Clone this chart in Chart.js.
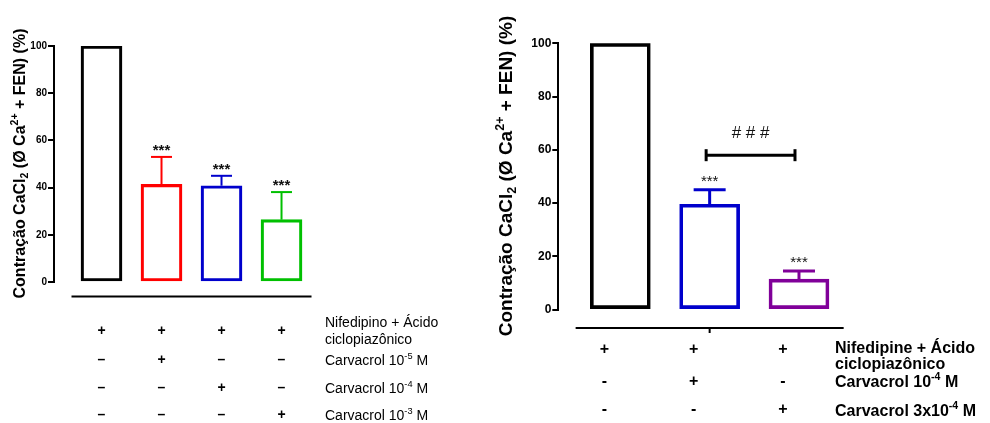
<!DOCTYPE html>
<html>
<head>
<meta charset="utf-8">
<script src="https://cdn.jsdelivr.net/npm/chart.js@4.4.1/dist/chart.umd.min.js"></script>
<style>
  html, body { margin: 0; padding: 0; background: #fff; }
  #wrap { position: relative; width: 990px; height: 423px; overflow: hidden; }
  #wrap canvas { position: absolute; left: 0; top: 0; }
</style>
</head>
<body>
<div id="wrap">
  <canvas id="panelA" width="990" height="423"></canvas>
  <canvas id="panelB" width="990" height="423"></canvas>
</div>
<script>
const FONT = "'Liberation Sans', Arial, Helvetica, sans-serif";

// ---- shared axis ----
const yTicks = [0, 20, 40, 60, 80, 100];
const yTitle = [['Contração CaCl', 'n'], ['2', 'sub'], [' (Ø Ca', 'n'], ['2+', 'sup'], [' + FEN) (%)', 'n']];

// ---- panel A: carvacrol 10-5, 10-4, 10-3 M ----
const groupsA = ['Controle', 'Carvacrol 10-5 M', 'Carvacrol 10-4 M', 'Carvacrol 10-3 M'];
const meansA = [100, 41.4, 40.8, 26.4];
const semA = [0, 11.6, 4.2, 11.7];
const starsA = ['', '***', '***', '***'];
const colorsA = ['#000000', '#ff0000', '#0000cc', '#00c000'];
const rowLabelsA = [
  [[['Nifedipino + Ácido', 'n']], [['ciclopiazônico', 'n']]],
  [[['Carvacrol 10', 'n'], ['-5', 'sup'], [' M', 'n']]],
  [[['Carvacrol 10', 'n'], ['-4', 'sup'], [' M', 'n']]],
  [[['Carvacrol 10', 'n'], ['-3', 'sup'], [' M', 'n']]]
];
const rowMarksA = [
  ['+', '+', '+', '+'],
  ['–', '+', '–', '–'],
  ['–', '–', '+', '–'],
  ['–', '–', '–', '+']
];

// ---- panel B: carvacrol 10-4 and 3x10-4 M ----
const groupsB = ['Controle', 'Carvacrol 10-4 M', 'Carvacrol 3x10-4 M'];
const meansB = [100, 39.6, 11.5];
const semB = [0, 5.4, 3.0];
const starsB = ['', '***', '***'];
const colorsB = ['#000000', '#0000cc', '#800099'];
const bracketB = { from: 1, to: 2, value: 58, label: '# # #' };
const rowLabelsB = [
  [[['Nifedipine + Ácido', 'n']], [['ciclopiazônico', 'n']]],
  [[['Carvacrol 10', 'n'], ['-4', 'sup'], [' M', 'n']]],
  [[['Carvacrol 3x10', 'n'], ['-4', 'sup'], [' M', 'n']]]
];
const rowMarksB = [
  ['+', '+', '+'],
  ['-', '+', '-'],
  ['-', '-', '+']
];

// Draws a run of text segments (normal / superscript / subscript) on one baseline.
function drawRich(ctx, segs, x, y, size, weight, align) {
  let total = 0;
  const parts = segs.map(([t, k]) => {
    const s = k === 'n' ? size : size * 0.66;
    ctx.font = `${weight} ${s}px ${FONT}`;
    const w = ctx.measureText(t).width;
    total += w;
    return { t, k, s, w };
  });
  let cx = align === 'center' ? x - total / 2 : x;
  ctx.textAlign = 'left';
  ctx.textBaseline = 'alphabetic';
  for (const p of parts) {
    ctx.font = `${weight} ${p.s}px ${FONT}`;
    const dy = p.k === 'sup' ? -size * 0.4 : (p.k === 'sub' ? size * 0.22 : 0);
    ctx.fillText(p.t, cx, y + dy);
    cx += p.w;
  }
}

function line(ctx, x1, y1, x2, y2) {
  ctx.beginPath();
  ctx.moveTo(x1, y1);
  ctx.lineTo(x2, y2);
  ctx.stroke();
}

// Error bars, significance marks, offset baseline, treatment table and axis title.
function extras(cfg) {
  return {
    id: 'extras',
    afterDatasetsDraw(chart) {
      const ctx = chart.ctx;
      const xs = chart.scales.x, ys = chart.scales.y;
      const meta = chart.getDatasetMeta(0);
      ctx.save();
      ctx.lineCap = 'butt';
      meta.data.forEach((bar, i) => {
        const yTop = ys.getPixelForValue(cfg.means[i]);
        const yErr = ys.getPixelForValue(cfg.means[i] + cfg.sem[i]);
        if (cfg.sem[i] > 0) {
          ctx.strokeStyle = cfg.colors[i];
          ctx.lineWidth = cfg.errWidth;
          line(ctx, bar.x, yTop, bar.x, yErr);
          line(ctx, bar.x - cfg.cap / 2, yErr, bar.x + cfg.cap / 2, yErr);
        }
        if (cfg.stars[i]) {
          ctx.fillStyle = '#111';
          ctx.font = `${cfg.starWeight} 15px ${FONT}`;
          ctx.textAlign = 'center';
          ctx.textBaseline = 'alphabetic';
          ctx.fillText(cfg.stars[i], bar.x, yErr - cfg.starGap + 8.7);
        }
      });

      // comparison bracket
      if (cfg.bracket) {
        const b = cfg.bracket;
        const x1 = xs.getPixelForValue(b.from) - 3.5;
        const x2 = xs.getPixelForValue(b.to) - 4;
        const yb = ys.getPixelForValue(b.value);
        ctx.strokeStyle = '#000';
        ctx.lineWidth = 3;
        line(ctx, x1, yb, x2, yb);
        line(ctx, x1, yb - 6, x1, yb + 6);
        line(ctx, x2, yb - 6, x2, yb + 6);
        ctx.fillStyle = '#111';
        ctx.font = `17px ${FONT}`;
        ctx.textAlign = 'center';
        ctx.textBaseline = 'alphabetic';
        ctx.fillText(b.label, (x1 + x2) / 2, yb - 17);
      }

      // detached category baseline
      const n = cfg.means.length;
      ctx.strokeStyle = '#000';
      ctx.lineWidth = 2;
      line(ctx, xs.getPixelForValue(-0.5), cfg.baseY, xs.getPixelForValue(n - 0.5), cfg.baseY);
      if (cfg.baseTick !== undefined) {
        const tx = xs.getPixelForValue(cfg.baseTick);
        line(ctx, tx, cfg.baseY, tx, cfg.baseY + 5);
      }

      // treatment table
      ctx.fillStyle = '#000';
      cfg.marks.forEach((row, r) => {
        row.forEach((m, i) => {
          ctx.font = `bold ${cfg.markSize}px ${FONT}`;
          ctx.textAlign = 'center';
          ctx.textBaseline = 'middle';
          ctx.fillText(m, xs.getPixelForValue(i) + cfg.markShift, cfg.rowY[r]);
        });
      });
      cfg.rowLabels.forEach((lines, r) => {
        lines.forEach((segs, k) => {
          drawRich(ctx, segs, cfg.labelX, cfg.labelBase[r][k], cfg.labelSize, cfg.labelWeight, 'left');
        });
      });

      // rotated y-axis title
      ctx.save();
      ctx.translate(cfg.titleX, cfg.titleY);
      ctx.rotate(-Math.PI / 2);
      ctx.fillStyle = '#000';
      drawRich(ctx, yTitle, 0, 0, cfg.titleSize, 'bold', 'center');
      ctx.restore();

      ctx.restore();
    }
  };
}

function makeChart(id, cfg) {
  return new Chart(document.getElementById(id), {
    type: 'bar',
    data: {
      datasets: [{
        data: cfg.means.map((v, i) => ({ x: i, y: v })),
        backgroundColor: 'rgba(255,255,255,0)',
        borderColor: cfg.colors,
        borderWidth: cfg.barBorder,
        borderSkipped: false,
        barThickness: cfg.barWidth
      }]
    },
    options: {
      responsive: false,
      animation: false,
      events: [],
      layout: { padding: cfg.padding },
      plugins: { legend: { display: false }, tooltip: { enabled: false } },
      scales: {
        x: { type: 'linear', display: false, offset: false, min: cfg.xMin, max: cfg.xMax },
        y: {
          min: yTicks[0],
          max: yTicks[yTicks.length - 1],
          afterFit: s => { s.width = cfg.axisWidth; },
          afterBuildTicks: s => { s.ticks = yTicks.map(v => ({ value: v })); },
          ticks: { color: '#000', padding: 1, font: { family: FONT, size: cfg.tickSize, weight: 'bold' } },
          grid: { drawOnChartArea: false, color: '#000', lineWidth: 2, tickLength: 6 },
          border: { display: true, color: '#000', width: 2 }
        }
      }
    },
    plugins: [extras(cfg)]
  });
}

makeChart('panelA', {
  means: meansA, sem: semA, stars: starsA, colors: colorsA,
  marks: rowMarksA, rowLabels: rowLabelsA,
  padding: { left: 0, right: 678, top: 46, bottom: 141 },
  axisWidth: 54, xMin: -0.7917, xMax: 3.508,
  barWidth: 41, barBorder: 2.5, errWidth: 2, cap: 21,
  starGap: 11, starWeight: 'bold', tickSize: 10,
  baseY: 296.5,
  markSize: 14, markShift: 0, rowY: [331.5, 360, 388, 415],
  labelX: 325, labelSize: 14, labelWeight: 'normal',
  labelBase: [[327, 344], [365], [393], [420]],
  titleX: 24.5, titleY: 163.5, titleSize: 16
});

makeChart('panelB', {
  means: meansB, sem: semB, stars: starsB, colors: colorsB,
  marks: rowMarksB, rowLabels: rowLabelsB, bracket: bracketB,
  padding: { left: 495, right: 145, top: 43.3, bottom: 113.3 },
  axisWidth: 63.3, xMin: -0.694, xMax: 2.515,
  barWidth: 60, barBorder: 3, errWidth: 3, cap: 32,
  starGap: 12.5, starWeight: 'normal', tickSize: 12,
  baseY: 328, baseTick: 1,
  markSize: 16, markShift: -16, rowY: [350, 381.5, 410],
  labelX: 835, labelSize: 16, labelWeight: 'bold',
  labelBase: [[353, 369], [386.5], [415.5]],
  titleX: 512, titleY: 176, titleSize: 19
});
</script>
</body>
</html>
